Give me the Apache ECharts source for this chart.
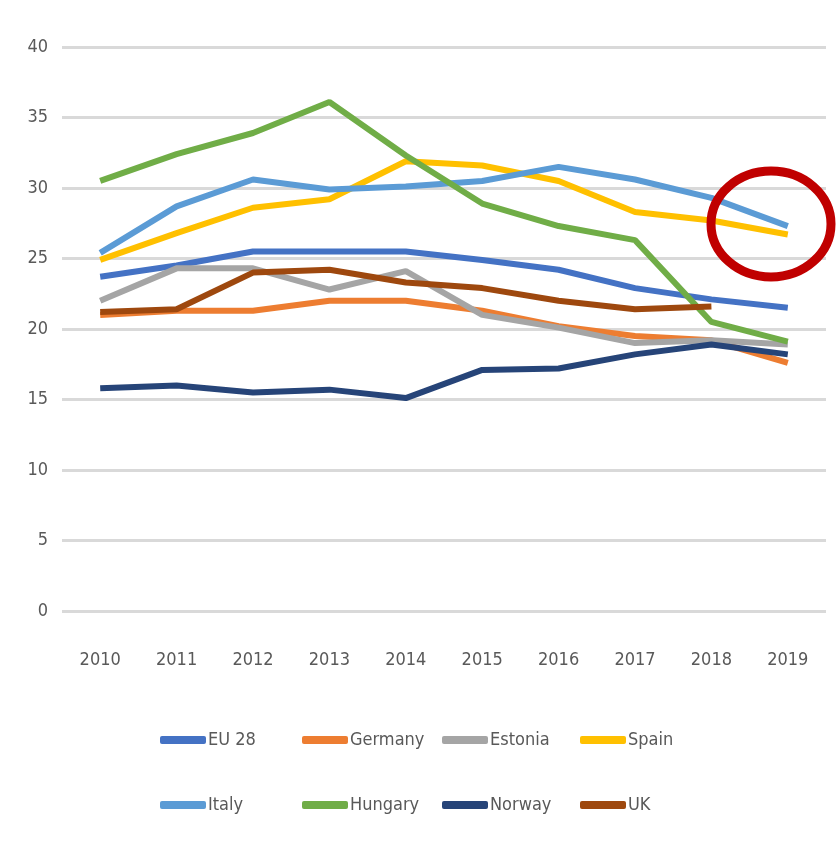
<!DOCTYPE html>
<html><head><meta charset="utf-8">
<script src="https://cdn.jsdelivr.net/npm/echarts@6/dist/echarts.min.js"></script>
<style>html,body{margin:0;padding:0;background:#fff}#c{width:840px;height:847px}</style>
</head><body><div id="c"></div>
<script>
const years = ['2010','2011','2012','2013','2014','2015','2016','2017','2018','2019'];
const yTicks = [0,5,10,15,20,25,30,35,40];
const eu28    = [23.7,24.5,25.5,25.5,25.5,24.9,24.2,22.9,22.1,21.5];
const germany = [21.0,21.3,21.3,22.0,22.0,21.3,20.2,19.5,19.2,17.6];
const estonia = [22.0,24.3,24.3,22.8,24.1,21.0,20.1,19.0,19.2,18.9];
const spain   = [24.9,26.8,28.6,29.2,31.9,31.6,30.5,28.3,27.7,26.7];
const italy   = [25.4,28.7,30.6,29.9,30.1,30.5,31.5,30.6,29.3,27.3];
const hungary = [30.5,32.4,33.9,36.1,32.3,28.9,27.3,26.3,20.5,19.1];
const norway  = [15.8,16.0,15.5,15.7,15.1,17.1,17.2,18.2,18.9,18.2];
const uk      = [21.2,21.4,24.0,24.2,23.3,22.9,22.0,21.4,21.6,null];

const names = ['EU 28','Germany','Estonia','Spain','Italy','Hungary','Norway','UK'];
const datas = [eu28,germany,estonia,spain,italy,hungary,norway,uk];
const colors = ['#4472C4','#ED7D31','#A5A5A5','#FFC000','#5B9BD5','#70AD47','#264478','#9E480E'];
const font = "'Liberation Sans Narrow','DejaVu Sans Condensed','Roboto Condensed',sans-serif";

const legendLeft = [155,297,437,575];
const legendTop = [726,791];
const legends = names.map((n,i)=>({
  data:[n], left: legendLeft[i%4], top: legendTop[Math.floor(i/4)],
  icon:'roundRect', itemWidth:46, itemHeight:8, itemGap:0,
  textStyle:{fontFamily:font, fontSize:18, color:'#595959', padding:[0,0,0,-3]}
}));

const chart = echarts.init(document.getElementById('c'));
chart.setOption({
  animation:false,
  color: colors,
  grid:{left:62, right:14, top:47, bottom:236},
  legend: legends,
  xAxis:{type:'category', data:years, boundaryGap:true,
    axisLine:{show:false}, axisTick:{show:false},
    axisLabel:{margin:40, fontFamily:font, fontSize:18, color:'#595959'}},
  yAxis:{type:'value', min:yTicks[0], max:yTicks[yTicks.length-1], interval:5,
    axisLine:{show:false}, axisTick:{show:false},
    splitLine:{lineStyle:{color:'#d9d9d9', width:3}},
    axisLabel:{margin:14, fontFamily:font, fontSize:18, color:'#595959'}},
  series: datas.map((d,i)=>({
    name:names[i], type:'line', data:d, symbol:'none',
    lineStyle:{width:6, color:colors[i]}, itemStyle:{color:colors[i]}
  })),
  graphic:[{type:'ellipse', shape:{cx:771, cy:224, rx:60, ry:53},
    style:{fill:'none', stroke:'#C00000', lineWidth:9}, z:100}]
});
</script></body></html>
